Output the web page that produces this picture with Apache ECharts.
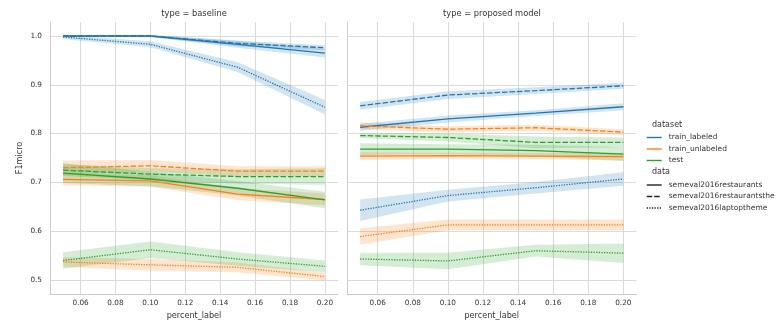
<!DOCTYPE html>
<html><head><meta charset="utf-8">
<script src="https://cdn.jsdelivr.net/npm/echarts@6/dist/echarts.min.js"></script>
<style>html,body{margin:0;padding:0;background:#fff}#c{width:776px;height:325px}</style>
</head><body><div id="c"></div>
<script>
// ---------- data ----------
const percent = [0.05, 0.10, 0.15, 0.20];
const xTicks = [0.06, 0.08, 0.10, 0.12, 0.14, 0.16, 0.18, 0.20];
const yTicks = [0.5, 0.6, 0.7, 0.8, 0.9, 1.0];
const facetTitles = ['type = baseline', 'type = proposed model'];
const datasetNames = ['train_labeled', 'train_unlabeled', 'test'];
const dataNames = ['semeval2016restaurants', 'semeval2016restaurantsthe', 'semeval2016laptoptheme'];

// baseline: mean F1micro
const base_labeled_rest   = [1.000, 1.000, 0.983, 0.965];
const base_labeled_the    = [1.000, 1.000, 0.985, 0.976];
const base_labeled_laptop = [0.998, 0.983, 0.936, 0.854];
const base_unlab_rest     = [0.706, 0.703, 0.676, 0.665];
const base_unlab_the      = [0.730, 0.734, 0.723, 0.723];
const base_unlab_laptop   = [0.537, 0.531, 0.526, 0.507];
const base_test_rest      = [0.719, 0.707, 0.688, 0.664];
const base_test_the       = [0.725, 0.717, 0.712, 0.712];
const base_test_laptop    = [0.540, 0.562, 0.543, 0.528];
// baseline: CI half widths
const base_labeled_rest_ci   = [0.002, 0.002, 0.007, 0.009];
const base_labeled_the_ci    = [0.002, 0.002, 0.006, 0.005];
const base_labeled_laptop_ci = [0.004, 0.006, 0.010, 0.015];
const base_unlab_rest_ci     = [0.012, 0.012, 0.012, 0.012];
const base_unlab_the_ci      = [0.015, 0.012, 0.010, 0.010];
const base_unlab_laptop_ci   = [0.010, 0.012, 0.010, 0.008];
const base_test_rest_ci      = [0.020, 0.015, 0.015, 0.017];
const base_test_the_ci       = [0.012, 0.012, 0.015, 0.017];
const base_test_laptop_ci    = [0.017, 0.017, 0.014, 0.012];

// proposed model: mean F1micro
const prop_labeled_rest   = [0.813, 0.830, 0.842, 0.855];
const prop_labeled_the    = [0.857, 0.879, 0.888, 0.898];
const prop_labeled_laptop = [0.643, 0.673, 0.689, 0.707];
const prop_unlab_rest     = [0.754, 0.755, 0.754, 0.753];
const prop_unlab_the      = [0.816, 0.809, 0.812, 0.803];
const prop_unlab_laptop   = [0.589, 0.613, 0.613, 0.613];
const prop_test_rest      = [0.768, 0.768, 0.765, 0.758];
const prop_test_the       = [0.796, 0.792, 0.782, 0.782];
const prop_test_laptop    = [0.543, 0.539, 0.560, 0.555];
// proposed model: CI half widths
const prop_labeled_rest_ci   = [0.007, 0.007, 0.006, 0.007];
const prop_labeled_the_ci    = [0.008, 0.008, 0.007, 0.006];
const prop_labeled_laptop_ci = [0.022, 0.012, 0.012, 0.014];
const prop_unlab_rest_ci     = [0.008, 0.006, 0.006, 0.008];
const prop_unlab_the_ci      = [0.007, 0.006, 0.006, 0.006];
const prop_unlab_laptop_ci   = [0.017, 0.011, 0.011, 0.011];
const prop_test_rest_ci      = [0.012, 0.010, 0.012, 0.014];
const prop_test_the_ci       = [0.005, 0.008, 0.012, 0.010];
const prop_test_laptop_ci    = [0.013, 0.017, 0.012, 0.020];

// ---------- assembly ----------
const panels = [
  [[base_labeled_rest, base_labeled_the, base_labeled_laptop],
   [base_unlab_rest, base_unlab_the, base_unlab_laptop],
   [base_test_rest, base_test_the, base_test_laptop]],
  [[prop_labeled_rest, prop_labeled_the, prop_labeled_laptop],
   [prop_unlab_rest, prop_unlab_the, prop_unlab_laptop],
   [prop_test_rest, prop_test_the, prop_test_laptop]]
];
const panelsCi = [
  [[base_labeled_rest_ci, base_labeled_the_ci, base_labeled_laptop_ci],
   [base_unlab_rest_ci, base_unlab_the_ci, base_unlab_laptop_ci],
   [base_test_rest_ci, base_test_the_ci, base_test_laptop_ci]],
  [[prop_labeled_rest_ci, prop_labeled_the_ci, prop_labeled_laptop_ci],
   [prop_unlab_rest_ci, prop_unlab_the_ci, prop_unlab_laptop_ci],
   [prop_test_rest_ci, prop_test_the_ci, prop_test_laptop_ci]]
];

const colors = ['#1f77b4', '#ff7f0e', '#2ca02c'];
const dashes = ['solid', [5.5, 2], [1.3, 1.3]];
const FONT = 'DejaVu Sans';
const TXT = '#333333';
const GRID = '#dadada';

const series = [];
for (let p = 0; p < 2; p++) {
  for (let d = 0; d < 3; d++) {
    for (let s = 0; s < 3; s++) {
      const mean = panels[p][d][s], ci = panelsCi[p][d][s];
      const band = percent.map((x, i) => [x, mean[i] - ci[i], mean[i] + ci[i]]);
      const color = colors[d];
      series.push({
        type: 'custom', xAxisIndex: p, yAxisIndex: p, silent: true, z: 1,
        data: band, encode: { x: 0, y: [1, 2] },
        renderItem: (params, api) => {
          if (params.dataIndex !== 0) return null;
          const pts = [];
          band.forEach(b => pts.push(api.coord([b[0], b[1]])));
          for (let i = band.length - 1; i >= 0; i--) pts.push(api.coord([band[i][0], band[i][2]]));
          return { type: 'polygon', shape: { points: pts }, style: { fill: color, opacity: 0.2 } };
        }
      });
      series.push({
        type: 'line', xAxisIndex: p, yAxisIndex: p, z: 3, silent: true,
        data: percent.map((x, i) => [x, mean[i]]),
        symbol: 'none', lineStyle: { color: color, width: 1.3, type: dashes[s] }
      });
    }
  }
}
// legend-only series
datasetNames.forEach((n, d) => series.push({
  type: 'line', name: n, data: [], symbol: 'none', color: colors[d],
  lineStyle: { color: colors[d], width: 1.5, type: 'solid' }
}));
dataNames.forEach((n, s) => series.push({
  type: 'line', name: n, data: [], symbol: 'none', color: '#222',
  lineStyle: { color: '#222', width: 1.3, type: dashes[s] }
}));

const grids = [
  { left: 50, top: 22, width: 288, height: 272 },
  { left: 347, top: 22, width: 289.5, height: 272 }
];

const xAxes = [0, 1].map(i => ({
  type: 'value', gridIndex: i, min: 0.0425, max: 0.2075,
  axisLine: { show: true, lineStyle: { color: '#cccccc', width: 1 } },
  axisTick: { show: false, customValues: xTicks },
  axisLabel: { customValues: xTicks, formatter: v => v.toFixed(2), color: TXT, fontSize: 7.3, fontFamily: FONT, margin: 6 },
  splitLine: { show: true, lineStyle: { color: GRID, width: 1 } },
  name: 'percent_label', nameLocation: 'middle', nameGap: 17,
  nameTextStyle: { color: TXT, fontSize: 8.1, fontFamily: FONT }
}));
const yAxes = [0, 1].map(i => ({
  type: 'value', gridIndex: i, min: 0.4713, max: 1.0287,
  axisLine: { show: true, lineStyle: { color: '#cccccc', width: 1 } },
  axisTick: { show: false, customValues: yTicks },
  axisLabel: { show: i === 0, customValues: yTicks, formatter: v => v.toFixed(1), color: TXT, fontSize: 7.3, fontFamily: FONT, margin: 8 },
  splitLine: { show: true, lineStyle: { color: GRID, width: 1 } },
  name: i === 0 ? 'F1micro' : '', nameLocation: 'middle', nameGap: 26,
  nameTextStyle: { color: TXT, fontSize: 8.1, fontFamily: FONT }
}));

const legendCommon = {
  orient: 'vertical', left: 646, padding: 0, itemWidth: 15, itemHeight: 8, itemGap: 3.5,
  selectedMode: false, icon: 'inherit',
  itemStyle: { opacity: 0 },
  lineStyle: { width: 1.4 },
  textStyle: { color: TXT, fontSize: 7.5, fontFamily: FONT, padding: [0, 0, 0, 2] }
};

const option = {
  animation: false,
  backgroundColor: '#ffffff',
  grid: grids,
  xAxis: xAxes,
  yAxis: yAxes,
  legend: [
    Object.assign({}, legendCommon, { top: 133.5, data: datasetNames }),
    Object.assign({}, legendCommon, { top: 181, data: dataNames })
  ],
  graphic: [
    { type: 'text', x: 194, y: 14, style: { text: facetTitles[0], fill: TXT, font: '8.3px "DejaVu Sans"', align: 'center', verticalAlign: 'middle' } },
    { type: 'text', x: 492, y: 14, style: { text: facetTitles[1], fill: TXT, font: '8.3px "DejaVu Sans"', align: 'center', verticalAlign: 'middle' } },
    { type: 'text', x: 652, y: 125, style: { text: 'dataset', fill: TXT, font: '8px "DejaVu Sans"', align: 'left', verticalAlign: 'middle' } },
    { type: 'text', x: 652, y: 172, style: { text: 'data', fill: TXT, font: '8px "DejaVu Sans"', align: 'left', verticalAlign: 'middle' } }
  ],
  series: series
};
const chart = echarts.init(document.getElementById('c'), null, { renderer: 'canvas' });
chart.setOption(option);
</script></body></html>
